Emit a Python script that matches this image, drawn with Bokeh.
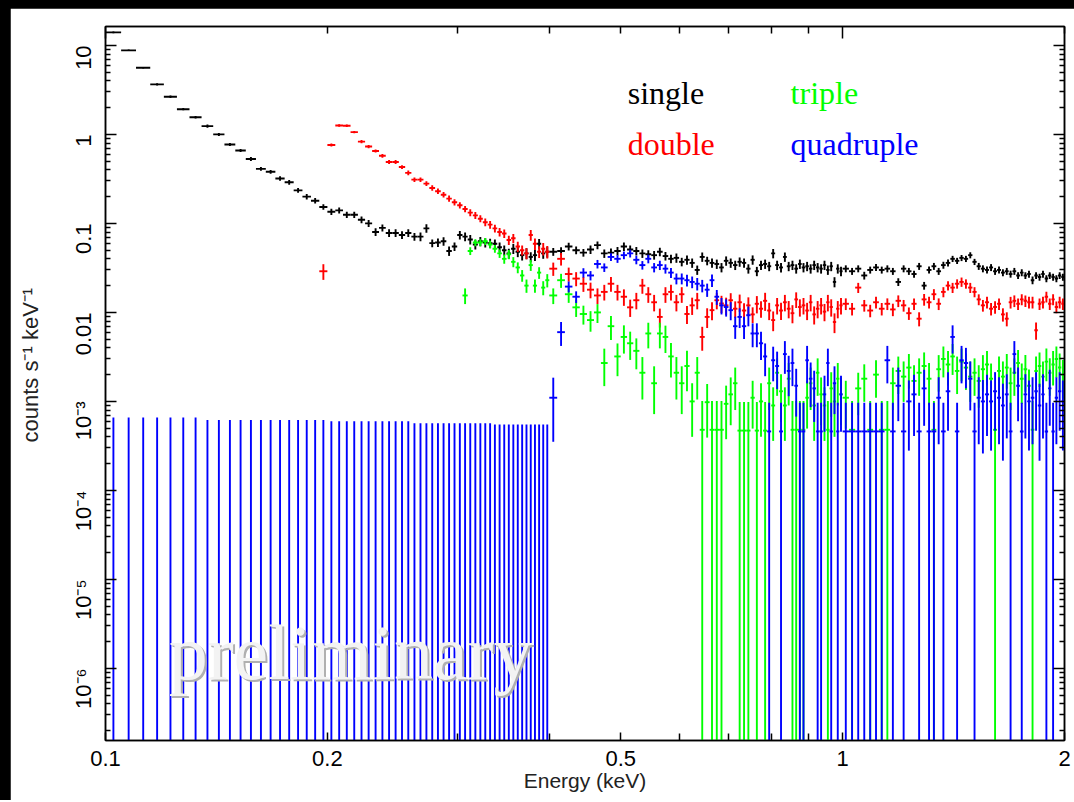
import math
import numpy as np
from bokeh.plotting import figure
from bokeh.models import ColumnDataSource, FixedTicker, LogAxis, Label
from bokeh.layouts import column
from bokeh.embed import file_html
from bokeh.resources import INLINE

# ---------------- data ----------------
# energy channel grid (keV): (start, stop, bin width)
ENERGY_SEGMENTS = [(0.10, 0.40, 0.005), (0.40, 1.00, 0.01), (1.00, 2.00, 0.02)]

# "single" events (counts s^-1 keV^-1), one value per channel (170)
SINGLE = [
    14.0, 8.8, 5.6, 3.65, 2.65, 1.92, 1.56, 1.24, 1.00, 0.77,
    0.66, 0.53, 0.41, 0.38, 0.32, 0.29, 0.235, 0.20, 0.18, 0.153,
    0.135, 0.14, 0.125, 0.125, 0.11, 0.10, 0.08, 0.089, 0.078, 0.078,
    0.074, 0.078, 0.071, 0.071, 0.088, 0.060, 0.061, 0.063, 0.049, 0.055,
    0.074, 0.071, 0.066, 0.058, 0.063, 0.061, 0.060, 0.059, 0.054, 0.050,
    0.046, 0.052, 0.048, 0.044, 0.046, 0.042, 0.044, 0.059, 0.046, 0.048,
    0.048, 0.049, 0.055, 0.050, 0.047, 0.051, 0.057, 0.046, 0.047, 0.049,
    0.055, 0.051, 0.049, 0.046, 0.045, 0.044, 0.048, 0.043, 0.040, 0.041,
    0.037, 0.039, 0.036, 0.030, 0.042, 0.038, 0.036, 0.035, 0.032, 0.038,
    0.036, 0.034, 0.037, 0.036, 0.031, 0.039, 0.029, 0.034, 0.035, 0.033,
    0.046, 0.034, 0.032, 0.042, 0.033, 0.034, 0.031, 0.035, 0.032, 0.033,
    0.031, 0.034, 0.032, 0.031, 0.034, 0.030, 0.033, 0.022, 0.031, 0.029,
    0.031, 0.029, 0.031, 0.026, 0.030, 0.032, 0.030, 0.031, 0.029, 0.022,
    0.031, 0.029, 0.027, 0.033, 0.020, 0.030, 0.033, 0.029, 0.034, 0.036,
    0.040, 0.038, 0.041, 0.040, 0.044, 0.037, 0.033, 0.031, 0.030, 0.032,
    0.029, 0.030, 0.028, 0.029, 0.027, 0.029, 0.026, 0.028, 0.026, 0.027,
    0.023, 0.026, 0.025, 0.027, 0.024, 0.026, 0.025, 0.024, 0.026, 0.025,
]
SINGLE_ERR_PCT = [
    2, 2, 2, 3, 3, 3, 3, 4, 4, 4, 4, 5, 5, 5, 6, 6, 6, 7, 7, 7,
    8, 8, 8, 8, 9, 9, 10, 9, 10, 10, 10, 10, 10, 11, 11, 10, 11, 11, 12, 11,
    11, 11, 12, 12, 12, 12, 12, 12, 13, 13, 13, 13, 13, 13, 14, 13, 14, 13, 13, 14,
    10, 10, 10, 10, 10, 11, 10, 11, 11, 11, 11, 11, 11, 11, 11, 11, 11, 11, 11, 12,
    11, 12, 12, 12, 12, 11, 12, 12, 12, 12, 12, 12, 12, 12, 12, 12, 12, 12, 12, 12,
    12, 12, 12, 12, 12, 12, 12, 12, 12, 12, 12, 12, 12, 12, 12, 12, 12, 13, 12, 12,
    9, 9, 9, 10, 9, 9, 9, 9, 9, 10, 9, 9, 9, 9, 10, 9, 9, 9, 9, 9,
    8, 8, 8, 8, 8, 8, 9, 9, 9, 9, 9, 9, 9, 9, 9, 9, 9, 9, 9, 9,
    10, 9, 9, 9, 9, 9, 9, 9, 9, 9,
]

# "double" events
DOUBLE = [None] * 19 + [
    0.029, 0.76, 1.26, 1.25, 1.06, 0.83, 0.73, 0.65, 0.575, 0.49, 0.49,
    0.43, 0.37, 0.31, 0.31, 0.28, 0.25, 0.23, 0.21, 0.19, 0.173,
    0.160, 0.145, 0.132, 0.123, 0.113, 0.103, 0.097, 0.088, 0.080, 0.077,
    0.065, 0.068, 0.055, 0.050, 0.046, 0.074, 0.059, 0.048, 0.052, 0.048,
    0.031, 0.040, 0.027, 0.024, 0.021, 0.018, 0.0155, 0.017, 0.021, 0.017,
    0.015, 0.0114, 0.0137, 0.020, 0.016, 0.013, 0.0089, 0.016, 0.017, 0.013,
    0.016, 0.0096, 0.012, 0.0137, 0.0053, 0.0089, 0.0106, 0.0137, 0.0126, 0.012,
    0.0137, 0.011, 0.013, 0.0105, 0.012, 0.0095, 0.0125, 0.011, 0.0135, 0.0105,
    0.0082, 0.012, 0.0105, 0.013, 0.011, 0.0098, 0.014, 0.0115, 0.012, 0.0105,
    0.013, 0.0095, 0.011, 0.012, 0.0102, 0.013, 0.0115, 0.0078, 0.011, 0.012,
    0.0125, 0.011, 0.019, 0.012, 0.0105, 0.013, 0.011, 0.0125, 0.0108, 0.0135,
    0.012, 0.0098, 0.0125, 0.0085, 0.014, 0.013, 0.016, 0.0125, 0.017, 0.020,
    0.019, 0.021, 0.022, 0.021, 0.019, 0.017, 0.014, 0.012, 0.013, 0.011,
    0.0115, 0.0125, 0.0095, 0.0085, 0.013, 0.0135, 0.0125, 0.014, 0.0135, 0.013,
    0.013, 0.0063, 0.0125, 0.013, 0.015, 0.0125, 0.014, 0.0115, 0.013, 0.0125,
]
DOUBLE_ERR_PCT = [None] * 19 + [
    20, 4, 3, 3, 3, 4, 4, 4, 5, 5, 5,
    5, 6, 6, 6, 6, 7, 7, 7, 8, 8,
    8, 8, 9, 9, 9, 10, 10, 10, 11, 11,
    12, 12, 13, 13, 14, 14, 15, 15, 16, 16,
    17, 16, 18, 18, 19, 20, 20, 20, 19, 20, 21, 22, 21, 19, 20, 21, 24, 20, 20, 21,
    20, 23, 22, 21, 30, 25, 23, 21, 22, 22, 20, 21, 22, 21, 23, 20, 22, 21, 23, 22,
    25, 21, 22, 21, 22, 23, 20, 22, 21, 22, 21, 23, 22, 21, 22, 21, 22, 25, 22, 21,
    15, 16, 13, 15, 16, 15, 16, 15, 16, 15, 15, 16, 15, 18, 15, 15, 14, 15, 13, 12,
    13, 12, 12, 12, 13, 13, 14, 15, 15, 16, 16, 15, 17, 18, 15, 15, 15, 14, 15, 15,
    15, 22, 15, 15, 14, 15, 14, 15, 15, 15,
]

# "triple" events
TRIPLE = [None] * 41 + [
    0.0155, 0.049, 0.061, 0.061, 0.063, 0.058, 0.052, 0.046, 0.040, 0.045,
    0.037, 0.032, 0.026, 0.020, 0.034, 0.020, 0.028, 0.019, 0.023,
    0.0155, 0.023, 0.016, 0.0114, 0.0096, 0.0082, 0.0100, 0.0027, 0.0070, 0.0032,
    0.0053, 0.0045, 0.0037, 0.0021, 0.0058, 0.0016, 0.0058, 0.0053, 0.0032, 0.0021,
    0.0016, 0.0025, 0.0010, 0.0021, 0.00048, 0.00098, 0.00048, 0.00048, 0.00048, 0.00094,
    0.0012, 0.0016, 0.00047, 0.00047, 0.00047, 0.0011, 0.00047, 0.0010, 0.00047, 0.0016,
    0.0009, 0.0021, 0.0013, 0.0009, 0.0018, 0.00048, 0.00048, 0.00048, 0.00048, 0.0011,
    0.0016, 0.0009, 0.0021, 0.0012, 0.0009, 0.00048, 0.0014, 0.0010, 0.0018, 0.0012,
    0.0011, 0.00048, 0.0014, 0.0018, 0.00048, 0.0020, 0.00048, 0.00048, 0.0016, 0.0022,
    0.0019, 0.0024, 0.0017, 0.0021, 0.0025, 0.0018, 0.00048, 0.0023, 0.0030, 0.0026,
    0.0032, 0.0022, 0.0028, 0.0024, 0.0019, 0.0021, 0.0017, 0.0023, 0.0026, 0.0018,
    0.00048, 0.0022, 0.0019, 0.0024, 0.0016, 0.0021, 0.0027, 0.0018, 0.0023, 0.0015,
    0.00048, 0.0022, 0.0025, 0.0019, 0.0028, 0.0021, 0.0026, 0.0030, 0.0024, 0.0020,
]
TRIPLE_ERR_PCT = [None] * 41 + [
    20, 10, 9, 9, 9, 10, 10, 11, 12, 12, 13, 14, 15, 17, 14, 17, 15, 18, 17,
    20, 18, 20, 22, 24, 26, 24, 45, 30, 40, 35, 35, 38, 50, 32, 55, 32, 34, 42, 50,
    55, 48, 60, 50, 110, 60, 110, 110, 110, 60, 55, 50, 110, 110, 110, 55, 110, 60, 110, 50,
    60, 45, 55, 60, 50, 110, 110, 110, 110, 55, 50, 60, 45, 55, 60, 110, 52, 60, 50, 55,
    55, 110, 50, 45, 110, 45, 110, 110, 50, 45, 48, 42, 50, 45, 42, 50, 110, 44, 38, 42,
    38, 45, 40, 44, 48, 45, 50, 44, 42, 48, 110, 45, 48, 42, 50, 45, 40, 48, 44, 52,
    110, 45, 42, 48, 40, 45, 42, 38, 44, 46,
]

# "quadruple" events: empty channels below 0.4 keV (upper error only)
QUAD_UPPER = [
    0.00066, 0.00066, 0.00066, 0.00066, 0.00066, 0.00066, 0.00066,
    0.00062, 0.00062, 0.00062, 0.00062, 0.00062, 0.00062, 0.00062,
    0.00062, 0.00062, 0.00062, 0.00062, 0.00062, 0.00062,
    0.00060, 0.00060, 0.00060, 0.00060, 0.00060, 0.00060,
    0.00060, 0.00060, 0.00060, 0.00060, 0.00060, 0.00060,
    0.00057, 0.00057, 0.00057, 0.00057, 0.00057, 0.00057, 0.00057, 0.00057,
    0.00057, 0.00057, 0.00057, 0.00057, 0.00057, 0.00057, 0.00057,
    0.00055, 0.00055, 0.00055, 0.00055, 0.00055, 0.00055, 0.00055,
    0.00055, 0.00055, 0.00055, 0.00055, 0.00055, 0.00055,
]
QUAD = [None] * 60 + [
    0.0011, 0.0060, 0.0195, 0.015, 0.028, 0.026, 0.035, 0.032, 0.042, 0.040,
    0.044, 0.046, 0.039, 0.034, 0.040, 0.032, 0.034, 0.031, 0.028, 0.024,
    0.024, 0.023, 0.022, 0.021, 0.020, 0.018, 0.023, 0.015, 0.012, 0.0115,
    0.0106, 0.0070, 0.0089, 0.0070, 0.0093, 0.0058, 0.0058, 0.0045, 0.0032, 0.00046,
    0.0029, 0.0025, 0.00046, 0.0034, 0.0022, 0.0027, 0.0015, 0.00046, 0.00046, 0.0029,
    0.0018, 0.0014, 0.00046, 0.00046, 0.0012, 0.0027, 0.00046, 0.0016, 0.00046, 0.0012,
    0.00046, 0.00046, 0.00046, 0.00046, 0.00046, 0.00046, 0.00046, 0.0029, 0.00046, 0.0015,
    0.00046, 0.0010, 0.0012, 0.00046, 0.0014, 0.00046, 0.00046, 0.0011, 0.00046, 0.0013,
    0.0053, 0.00046, 0.0029, 0.0027, 0.0018, 0.00046, 0.0011, 0.0010, 0.0012, 0.0010,
    0.0013, 0.0011, 0.0009, 0.0012, 0.00046, 0.0034, 0.0015, 0.00046, 0.0012, 0.0010,
    0.0011, 0.0013, 0.0009, 0.0012, 0.00046, 0.0014, 0.00046, 0.0011, 0.0013, 0.0010,
]
QUAD_ERR_PCT = [None] * 60 + [
    68, 30, 14, 15, 12, 12, 11, 11, 10, 10, 10, 10, 11, 11, 11, 12, 12, 12, 13, 14,
    14, 15, 15, 16, 16, 17, 16, 19, 21, 22, 23, 28, 25, 28, 25, 30, 30, 35, 40, 110,
    42, 45, 110, 40, 48, 45, 55, 110, 110, 45, 52, 58, 110, 110, 62, 45, 110, 55, 110, 62,
    110, 110, 110, 110, 110, 110, 110, 45, 110, 60, 110, 72, 66, 110, 62, 110, 110, 70, 110, 64,
    35, 110, 45, 48, 56, 110, 70, 74, 66, 72, 64, 70, 76, 68, 110, 40, 60, 110, 68, 72,
    70, 64, 76, 68, 110, 62, 110, 70, 64, 72,
]

X_TICKS = [0.1, 0.2, 0.5, 1, 2]
X_TICK_LABELS = ["0.1", "0.2", "0.5", "1", "2"]
Y_TICKS = [1e-6, 1e-5, 1e-4, 1e-3, 0.01, 0.1, 1, 10]
Y_TICK_LABELS = ["10\u207b\u2076", "10\u207b\u2075", "10\u207b\u2074", "10\u207b\u00b3",
                 "0.01", "0.1", "1", "10"]
X_TITLE = "Energy (keV)"
Y_TITLE = "counts s\u207b\u00b9  keV\u207b\u00b9"
SERIES_NAMES = ["single", "double", "triple", "quadruple"]
SERIES_COLORS = ["#000000", "#ff0000", "#00ff00", "#0000ff"]

X_RANGE = (0.1, 2.0)
Y_RANGE = (1.55e-7, 16.3)

# ---------------- channel grid ----------------
lo_list, hi_list = [], []
for a, b, w in ENERGY_SEGMENTS:
    n = int(round((b - a) / w))
    for i in range(n):
        lo_list.append(a + i * w)
        hi_list.append(a + (i + 1) * w)
E_LO = np.array(lo_list)
E_HI = np.array(hi_list)
E_MID = 0.5 * (E_LO + E_HI)
FLOOR = Y_RANGE[0] * 1e-2


def make_source(vals, pcts):
    rows = [(E_LO[i], E_HI[i], E_MID[i], v, p) for i, (v, p) in enumerate(zip(vals, pcts)) if v is not None]
    lo = np.array([r[0] for r in rows]); hi = np.array([r[1] for r in rows])
    mid = np.array([r[2] for r in rows]); v = np.array([r[3] for r in rows])
    pct = np.array([r[4] for r in rows], dtype=float)
    err = v * pct / 100.0
    ylo = v - err
    ylo = np.where(ylo <= 0, FLOOR, ylo)
    return ColumnDataSource(dict(lo=lo, hi=hi, mid=mid, v=v, ylo=ylo, yhi=v + err))


# ---------------- figure ----------------
p = figure(width=1064, height=792, x_axis_type="log", y_axis_type="log",
           x_range=X_RANGE, y_range=Y_RANGE, output_backend="svg",
           toolbar_location=None, min_border_left=95, min_border_right=10,
           min_border_top=18, min_border_bottom=60)
p.background_fill_color = "white"
p.border_fill_color = "white"
p.outline_line_color = "black"
p.outline_line_width = 1.5
p.grid.visible = False

LW = 1.9
sources = [make_source(SINGLE, SINGLE_ERR_PCT), make_source(DOUBLE, DOUBLE_ERR_PCT),
           make_source(TRIPLE, TRIPLE_ERR_PCT)]
for src, col in zip(sources, SERIES_COLORS[:3]):
    p.segment(x0="lo", x1="hi", y0="v", y1="v", source=src, line_color=col, line_width=LW)
    p.segment(x0="mid", x1="mid", y0="ylo", y1="yhi", source=src, line_color=col, line_width=LW)

# quadruple: empty channels -> upper error bars from the bottom
ul_src = ColumnDataSource(dict(mid=E_MID[:len(QUAD_UPPER)], ylo=[FLOOR] * len(QUAD_UPPER), yhi=QUAD_UPPER))
p.segment(x0="mid", x1="mid", y0="ylo", y1="yhi", source=ul_src, line_color=SERIES_COLORS[3], line_width=LW)
qsrc = make_source(QUAD, QUAD_ERR_PCT)
p.segment(x0="lo", x1="hi", y0="v", y1="v", source=qsrc, line_color=SERIES_COLORS[3], line_width=LW)
p.segment(x0="mid", x1="mid", y0="ylo", y1="yhi", source=qsrc, line_color=SERIES_COLORS[3], line_width=LW)

# ---------------- axes ----------------
TICK_FONT = "Liberation Sans"
xa = p.xaxis[0]
xa.ticker = FixedTicker(ticks=X_TICKS, minor_ticks=[0.3, 0.4, 0.6, 0.7, 0.8, 0.9])
xa.major_label_overrides = {t: l for t, l in zip(X_TICKS, X_TICK_LABELS)}
xa.axis_label = X_TITLE
ya = p.yaxis[0]
y_minor = [m * 10.0 ** k for k in range(-7, 2) for m in range(2, 10)]
ya.ticker = FixedTicker(ticks=Y_TICKS, minor_ticks=y_minor)
ya.major_label_overrides = {t: l for t, l in zip(Y_TICKS, Y_TICK_LABELS)}
ya.major_label_orientation = math.pi / 2
# leading no-break spaces lift the centred title slightly, as in the original
ya.axis_label = "\u00a0" * 7 + Y_TITLE

for ax, tin, mtin in ((xa, 8, 7), (ya, 11, 5)):
    ax.major_tick_in = tin
    ax.major_tick_out = 0
    ax.minor_tick_in = mtin
    ax.minor_tick_out = 0
    ax.major_tick_line_width = 1.5
    ax.minor_tick_line_width = 1.5
    ax.axis_line_width = 1.5
    ax.major_label_text_font = TICK_FONT
    ax.major_label_text_font_size = "22px"
    ax.major_label_text_color = "black"
    ax.axis_label_text_font = TICK_FONT
    ax.axis_label_text_font_style = "normal"
    ax.axis_label_text_color = "#222222"
xa.major_label_standoff = 10
xa.axis_label_standoff = 0
xa.axis_label_text_font_size = "21px"
ya.major_label_standoff = 22
ya.axis_label_standoff = 13
ya.axis_label_text_font_size = "22px"

X_TOP_MINOR = [0.2, 0.3, 0.4, 0.5, 0.6, 0.7, 0.8, 0.9, 2]
top = LogAxis(ticker=FixedTicker(ticks=[0.1, 1], minor_ticks=X_TOP_MINOR),
              major_tick_in=12, major_tick_out=0, minor_tick_in=7, minor_tick_out=0,
              major_label_overrides={0.1: "", 1: ""}, major_label_standoff=0,
              major_label_text_font_size="2px",
              major_tick_line_width=1.5, minor_tick_line_width=1.5, axis_line_width=1.5)
p.add_layout(top, "above")
right = LogAxis(ticker=FixedTicker(ticks=Y_TICKS, minor_ticks=y_minor),
                major_tick_in=11, major_tick_out=0, minor_tick_in=5, minor_tick_out=0,
                major_label_overrides={t: "" for t in Y_TICKS}, major_label_standoff=0,
                major_label_text_font_size="2px",
                major_tick_line_width=1.5, minor_tick_line_width=1.5, axis_line_width=1.5)
p.add_layout(right, "right")

# ---------------- legend texts ----------------
LEGEND_POS = [(0.511, 2.89), (0.511, 0.773), (0.850, 2.89), (0.850, 0.773)]
for name, col, (lx, ly) in zip(SERIES_NAMES, SERIES_COLORS, LEGEND_POS):
    p.add_layout(Label(x=lx, y=ly, text=name, text_color=col, text_font="Liberation Serif",
                       text_font_size="32px", text_baseline="alphabetic", text_align="left"))

# watermark
p.add_layout(Label(x=0.1218, y=1.51e-6, text="preliminary", text_color="#b0b0b0",
                   text_font="Liberation Serif", text_font_size="78px",
                   text_baseline="alphabetic", x_offset=2, y_offset=-2))
p.add_layout(Label(x=0.1218, y=1.51e-6, text="preliminary", text_color="#f3f3f3",
                   text_font="Liberation Serif", text_font_size="78px",
                   text_baseline="alphabetic"))

page = column(p, styles={"background-color": "black", "padding-left": "10px", "padding-top": "8px"})
open("out.html", "w").write(file_html(page, INLINE))
